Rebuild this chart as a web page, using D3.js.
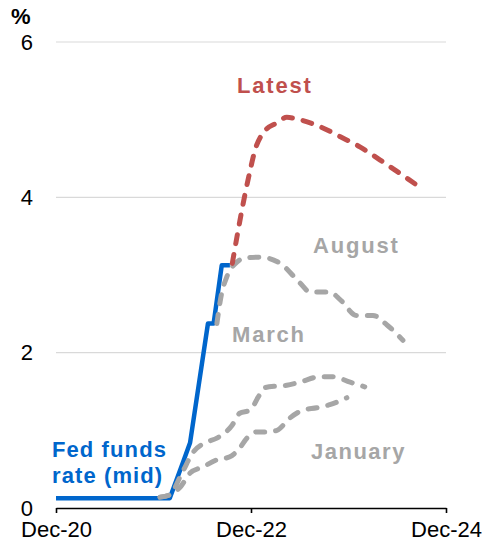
<!DOCTYPE html>
<html>
<head>
<meta charset="utf-8">
<script src="https://cdn.jsdelivr.net/npm/d3@7"></script>
<style>
	body { margin: 0; background: #fff; }
	svg { display: block; font-family: "Liberation Sans", Arial, sans-serif; }
</style>
</head>
<body>
<svg id="chart" width="486" height="551"></svg>
<script>
// months after Dec-20 on the x axis
const xTickMonths = [0, 24, 48];
const xTickLabels = ["Dec-20", "Dec-22", "Dec-24"];
const yTicks = [0, 2, 4, 6];

const fedMonths = [0, 14, 15.6, 16.5, 18.7, 19.4, 20.4, 21.4];
const fedRate = [0.125, 0.125, 0.58, 0.84, 2.375, 2.375, 3.125, 3.125];

const januaryMonths = [12.8, 14, 15.3, 16.5, 18.1, 19.8, 21.4, 22.6, 23.5, 24.7, 26, 27.2, 28.8, 30.4, 32.1, 33.7, 35.8];
const januaryRate = [0.14, 0.17, 0.27, 0.45, 0.53, 0.62, 0.66, 0.77, 0.9, 0.98, 0.98, 1.0, 1.16, 1.26, 1.29, 1.33, 1.42];

const marchMonths = [12.8, 14, 15.5, 16.9, 18.6, 19.8, 21.7, 22.6, 23.9, 24.9, 25.7, 27.2, 28.4, 30, 32.5, 34.1, 36.2, 38];
const marchRate = [0.14, 0.17, 0.45, 0.72, 0.85, 0.9, 1.07, 1.22, 1.26, 1.43, 1.55, 1.57, 1.58, 1.62, 1.69, 1.69, 1.62, 1.56];

const augustMonths = [19.8, 20.4, 21.0, 22.3, 23.3, 25.1, 27.6, 30.0, 31.3, 33.7, 35.0, 37.0, 39.0, 40.7, 42.7];
const augustRate = [2.375, 2.77, 2.97, 3.17, 3.22, 3.23, 3.15, 2.9, 2.78, 2.78, 2.68, 2.48, 2.48, 2.36, 2.16];

const latestMonths = [21.7, 22.6, 23.3, 23.9, 24.5, 25.5, 27.2, 28.4, 30.0, 32.5, 35.0, 37.4, 39.9, 42.3, 44.8];
const latestRate = [3.15, 3.68, 4.06, 4.35, 4.61, 4.83, 4.96, 5.03, 5.0, 4.91, 4.78, 4.65, 4.48, 4.31, 4.13];

const blue = "#0066cc";
const red = "#c0504d";
const grey = "#a6a6a6";

const svg = d3.select("#chart");
const margin = { top: 42, right: 40, bottom: 43, left: 56 };
const width = 486 - margin.left - margin.right;
const height = 551 - margin.top - margin.bottom;

const x = d3.scaleLinear().domain([0, 48]).range([margin.left, margin.left + width]);
const y = d3.scaleLinear().domain([0, 6]).range([margin.top + height, margin.top]);

const zip = (ms, vs) => ms.map((m, i) => [m, vs[i]]);

// gridlines
svg.append("g")
	.selectAll("line")
	.data(yTicks.filter(d => d > 0))
	.enter()
	.append("line")
	.attr("x1", x(0))
	.attr("x2", x(48))
	.attr("y1", d => y(d))
	.attr("y2", d => y(d))
	.attr("stroke", "#d9d9d9")
	.attr("stroke-width", 1.2);

// y labels
svg.append("g")
	.selectAll("text")
	.data(yTicks)
	.enter()
	.append("text")
	.attr("x", 33)
	.attr("y", d => y(d))
	.attr("dy", "0.35em")
	.attr("text-anchor", "end")
	.attr("font-size", 22)
	.text(d => d);

svg.append("text")
	.attr("x", 11)
	.attr("y", 24)
	.attr("font-size", 22)
	.attr("font-weight", "bold")
	.text("%");

// x axis
const xAxis = svg.append("g")
	.attr("transform", `translate(0,${y(0)})`)
	.call(d3.axisBottom(x)
		.tickValues(xTickMonths)
		.tickFormat((d, i) => xTickLabels[i])
		.tickSize(5)
		.tickSizeOuter(0)
		.tickPadding(8));
xAxis.select(".domain").attr("stroke", "#000").attr("stroke-width", 1.6);
xAxis.selectAll(".tick line").attr("stroke", "#000").attr("stroke-width", 1.6);
xAxis.selectAll("text")
	.attr("font-size", 22)
	.attr("font-family", "Liberation Sans, Arial, sans-serif")
	.attr("fill", "#000");

const straight = d3.line().x(d => x(d[0])).y(d => y(d[1]));
const smooth = d3.line().x(d => x(d[0])).y(d => y(d[1])).curve(d3.curveMonotoneX);

svg.append("path")
	.attr("d", straight(zip(fedMonths, fedRate)))
	.attr("fill", "none")
	.attr("stroke", blue)
	.attr("stroke-width", 4.5)
	.attr("stroke-linejoin", "round");

const dashed = [
	[januaryMonths, januaryRate, grey],
	[marchMonths, marchRate, grey],
	[augustMonths, augustRate, grey],
	[latestMonths, latestRate, red]
];

dashed.forEach(([ms, vs, colour]) => {
	svg.append("path")
		.attr("d", smooth(zip(ms, vs)))
		.attr("fill", "none")
		.attr("stroke", colour)
		.attr("stroke-width", 5)
		.attr("stroke-linecap", "round")
		.attr("stroke-dasharray", "9,11");
});

// series labels
const labels = [
	{ text: "Latest", x: 237, y: 93, colour: red, spacing: 1.8 },
	{ text: "August", x: 313, y: 253, colour: grey, spacing: 1.8 },
	{ text: "March", x: 232, y: 342, colour: grey, spacing: 1.8 },
	{ text: "January", x: 311, y: 459, colour: grey, spacing: 1.5 }
];

svg.append("g")
	.selectAll("text")
	.data(labels)
	.enter()
	.append("text")
	.attr("x", d => d.x)
	.attr("y", d => d.y)
	.attr("fill", d => d.colour)
	.attr("font-size", 22)
	.attr("font-weight", "bold")
	.attr("letter-spacing", d => d.spacing)
	.text(d => d.text);

const fedLabel = svg.append("text")
	.attr("fill", blue)
	.attr("font-size", 22)
	.attr("font-weight", "bold")
	.attr("letter-spacing", 1.1);
fedLabel.append("tspan").attr("x", 52).attr("y", 457).text("Fed funds");
fedLabel.append("tspan").attr("x", 52).attr("y", 483).text("rate (mid)");
</script>
</body>
</html>
